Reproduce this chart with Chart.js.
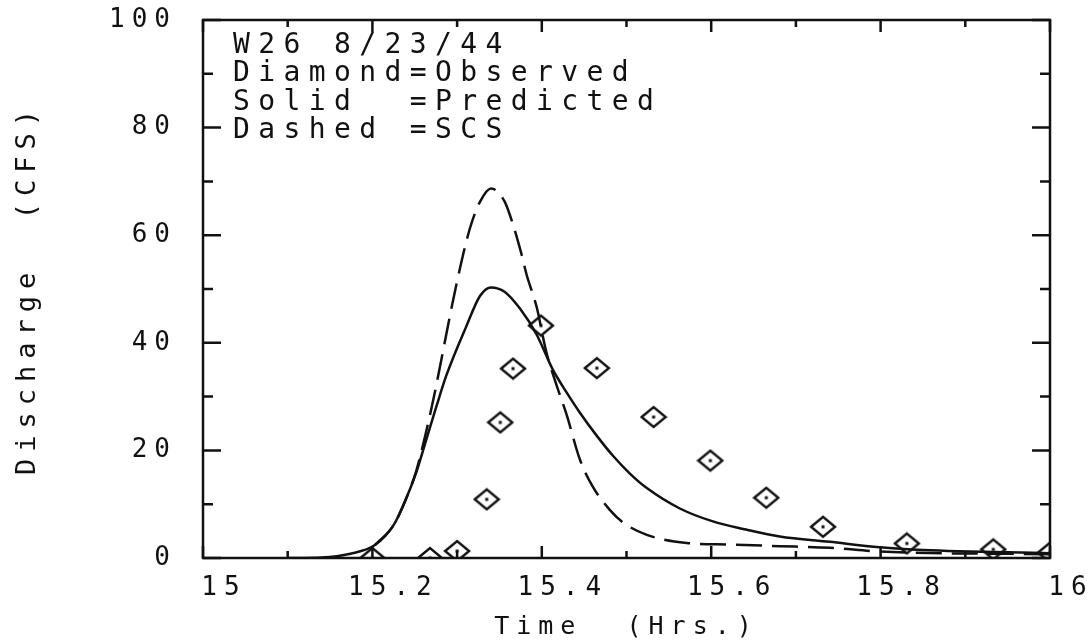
<!DOCTYPE html>
<html>
<head>
<meta charset="utf-8">
<script src="https://cdn.jsdelivr.net/npm/chart.js@4.4.0/dist/chart.umd.min.js"></script>
<style>
    html, body { margin: 0; padding: 0; background: #fff; }
    canvas { display: block; }
</style>
</head>
<body>
<canvas id="hydrograph" width="1091" height="644"></canvas>
<script>
// observed (diamonds)
const obsTime = [15.2, 15.268, 15.30, 15.335, 15.351, 15.366, 15.399, 15.465, 15.532, 15.599, 15.665, 15.732, 15.831, 15.933, 16.0];
const obsFlow = [0, 0, 1.3, 10.9, 25.2, 35.2, 43.2, 35.3, 26.2, 18.1, 11.2, 5.8, 2.7, 1.6, 1.0];

// predicted (solid)
const predTime = [15.10, 15.14, 15.174, 15.203, 15.225, 15.240, 15.252, 15.264, 15.276, 15.287, 15.311, 15.327, 15.340, 15.356, 15.374, 15.394, 15.413, 15.430, 15.445, 15.465, 15.484, 15.504, 15.524, 15.563, 15.602, 15.641, 15.681, 15.740, 15.799, 15.85, 16.0];
const predFlow = [0, 0.1, 0.8, 2.4, 6.1, 11.1, 16.0, 22.2, 28.4, 33.8, 43.1, 48.7, 50.3, 49.5, 46.4, 41.5, 35.0, 30.6, 27.0, 22.7, 19.0, 15.7, 13.0, 9.2, 6.8, 5.3, 4.0, 3.0, 2.0, 1.5, 0.9];

// SCS (dashed)
const scsTime = [15.203, 15.225, 15.240, 15.252, 15.262, 15.272, 15.299, 15.315, 15.327, 15.340, 15.356, 15.366, 15.376, 15.382, 15.394, 15.405, 15.417, 15.429, 15.445, 15.460, 15.480, 15.496, 15.524, 15.571, 15.622, 15.681, 15.740, 15.799, 16.0];
const scsFlow = [2.4, 6.1, 11.1, 16.3, 22.5, 29.5, 50.7, 61.2, 66.2, 68.7, 66.3, 62.0, 56.5, 52.7, 46.6, 38.5, 32.3, 26.8, 18.3, 13.3, 9.0, 6.6, 4.3, 2.8, 2.5, 2.2, 1.9, 1.2, 0.7];

// axis ticks
const xTickLabels = [15, 15.2, 15.4, 15.6, 15.8, 16];
const xTickMarks = [15, 15.1, 15.2, 15.3, 15.4, 15.5, 15.6, 15.7, 15.8, 15.9, 16];
const yTickLabels = [0, 20, 40, 60, 80, 100];
const yTickMarks = [0, 10, 20, 30, 40, 50, 60, 70, 80, 90, 100];

const noteLines = ['W26 8/23/44', 'Diamond=Observed', 'Solid  =Predicted', 'Dashed =SCS'];

const INK = '#111';
const FONT = '"DejaVu Sans Mono", monospace';

function pairs(xs, ys) {
    return xs.map((x, i) => ({ x: x, y: ys[i] }));
}

// diamond with a dot in the middle
function diamondMark() {
    const c = document.createElement('canvas');
    c.width = 28;
    c.height = 24;
    const g = c.getContext('2d');
    g.strokeStyle = INK;
    g.lineWidth = 2.4;
    g.beginPath();
    g.moveTo(2, 12);
    g.lineTo(14, 2);
    g.lineTo(26, 12);
    g.lineTo(14, 22);
    g.closePath();
    g.stroke();
    g.fillStyle = INK;
    g.fillRect(12.5, 10.5, 3, 3);
    return c;
}

// wide plotter-like spacing for all chart text
const plotterText = {
    id: 'plotterText',
    beforeDraw(chart) {
        chart.ctx.letterSpacing = '7px';
    }
};

// box with inward ticks on all four sides
const frameTicks = {
    id: 'frameTicks',
    afterDraw(chart) {
        const { ctx, chartArea: a, scales } = chart;
        ctx.save();
        ctx.strokeStyle = INK;
        ctx.lineWidth = 2.5;
        ctx.strokeRect(a.left, a.top, a.right - a.left, a.bottom - a.top);
        ctx.beginPath();
        xTickMarks.forEach(v => {
            const px = scales.x.getPixelForValue(v);
            const len = xTickLabels.includes(v) ? 12 : 7;
            ctx.moveTo(px, a.bottom); ctx.lineTo(px, a.bottom - len);
            ctx.moveTo(px, a.top); ctx.lineTo(px, a.top + len);
        });
        yTickMarks.forEach(v => {
            const py = scales.y.getPixelForValue(v);
            const len = yTickLabels.includes(v) ? 18 : 10;
            ctx.moveTo(a.left, py); ctx.lineTo(a.left + len, py);
            ctx.moveTo(a.right, py); ctx.lineTo(a.right - len, py);
        });
        ctx.stroke();
        ctx.restore();
    }
};

const noteText = {
    id: 'noteText',
    afterDraw(chart) {
        const { ctx, chartArea } = chart;
        ctx.save();
        ctx.letterSpacing = '8.4px';
        ctx.font = '28px ' + FONT;
        ctx.fillStyle = INK;
        ctx.textAlign = 'left';
        ctx.textBaseline = 'alphabetic';
        noteLines.forEach((t, i) => {
            ctx.fillText(t, chartArea.left + 30, 53 + i * 28.4);
        });
        ctx.restore();
    }
};

new Chart(document.getElementById('hydrograph'), {
    type: 'scatter',
    data: {
        datasets: [
            {
                label: 'Observed',
                data: pairs(obsTime, obsFlow),
                showLine: false,
                pointStyle: diamondMark(),
                pointRadius: 12,
                pointHoverRadius: 12
            },
            {
                label: 'Predicted',
                data: pairs(predTime, predFlow),
                showLine: true,
                borderColor: INK,
                borderWidth: 2.5,
                cubicInterpolationMode: 'monotone',
                pointRadius: 0
            },
            {
                label: 'SCS',
                data: pairs(scsTime, scsFlow),
                showLine: true,
                borderColor: INK,
                borderWidth: 2.5,
                borderDash: [26, 10],
                cubicInterpolationMode: 'monotone',
                pointRadius: 0
            }
        ]
    },
    options: {
        responsive: false,
        animation: false,
        devicePixelRatio: 1,
        layout: {
            padding: { left: 0, top: 20, right: 41, bottom: 0 }
        },
        plugins: {
            legend: { display: false },
            tooltip: { enabled: false }
        },
        scales: {
            x: {
                type: 'linear',
                min: 15,
                max: 16,
                grid: { display: false, drawTicks: false },
                border: { display: false },
                afterBuildTicks: s => { s.ticks = xTickLabels.map(v => ({ value: v })); },
                afterFit: s => { s.height = 86; s.paddingLeft = 0; s.paddingRight = 0; },
                ticks: {
                    color: INK,
                    font: { family: FONT, size: 26 },
                    padding: 15,
                    labelOffset: 21,
                    maxRotation: 0,
                    autoSkip: false,
                    callback: v => String(v)
                },
                title: {
                    display: true,
                    text: 'Time  (Hrs.)',
                    color: INK,
                    font: { family: FONT, size: 25 },
                    padding: { top: 0, bottom: 2 }
                }
            },
            y: {
                type: 'linear',
                min: 0,
                max: 100,
                grid: { display: false, drawTicks: false },
                border: { display: false },
                afterBuildTicks: s => { s.ticks = yTickLabels.map(v => ({ value: v })); },
                afterFit: s => { s.width = 203; s.paddingTop = 0; s.paddingBottom = 0; },
                ticks: {
                    color: INK,
                    font: { family: FONT, size: 26 },
                    padding: 26,
                    callback: v => String(v)
                },
                title: {
                    display: true,
                    text: 'Discharge  (CFS)',
                    color: INK,
                    font: { family: FONT, size: 27 },
                    padding: { top: 12, bottom: 0 }
                }
            }
        }
    },
    plugins: [plotterText, frameTicks, noteText]
});
</script>
</body>
</html>
